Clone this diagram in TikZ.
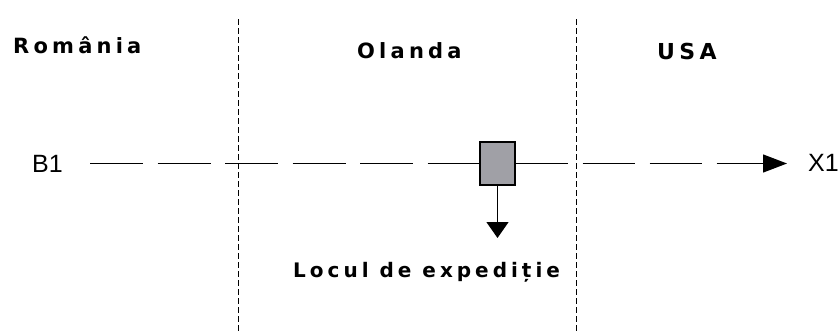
\documentclass[tikz,border=0pt]{standalone}
\usepackage{fontspec}
\setmainfont{Liberation Sans}
\newfontfamily\spacedfont[LetterSpace=20]{DejaVu Sans Bold}
\usetikzlibrary{arrows.meta, positioning}
\definecolor{boxgray}{RGB}{160,160,166}

\begin{document}
\begin{tikzpicture}[
                x=1pt, y=-1pt,
                country/.style={inner sep=0pt, anchor=base west, font=\spacedfont\fontsize{21}{25}\selectfont},
                endpoint/.style={inner sep=0pt, anchor=base west, font=\fontsize{25}{30}\selectfont},
                border/.style={dash pattern=on 6pt off 3pt, line width=0.9pt},
                flow/.style={line width=1.3pt},
                post/.style={rectangle, draw, line width=1.3pt, fill=boxgray, minimum width=35pt, minimum height=43pt, inner sep=0pt}
            ]
                \useasboundingbox (0,0) rectangle (840,332);
                % country borders
                \coordinate (bordA) at (238,19);
                \coordinate (bordAend) at (238,332);
                \coordinate (bordB) at (576,19);
                \coordinate (bordBend) at (576,332);
                \draw[border] (bordA) -- (bordAend);
                \draw[border] (bordB) -- (bordBend);
                
                \node[country] (romania) at (13,53) {România};
                \node[country] (olanda) at (357,58) {Olanda};
                \node[country, font=\spacedfont\fontsize{22}{26}\selectfont] (usa) at (657,59) {USA};
                
                \node[endpoint] (b1) at (32,172) {B1};
                \node[endpoint] (x1) at (808,171) {X1};
                \node[post] (depot) at (497.5,163.5) {};
                \coordinate (start) at (90,163.5);
                \coordinate (tip) at (787,163.5);
                \coordinate (drop) at (497.5,238);
                
                \draw[flow, dash pattern=on 53pt off 14.5pt] (start) -- (depot.west);
                \draw[flow, dash pattern=on 52pt off 15pt, -{Triangle[length=24pt, width=18pt]}] (depot.east) -- (tip);
                \draw[flow, -{Triangle[length=16pt, width=22pt]}] (depot.south) -- (drop);
                
                \node[inner sep=0pt, anchor=base west, font=\spacedfont\fontsize{20}{24}\selectfont] (locul) at (293,277) {Locul de expediție};
            \end{tikzpicture}
\end{document}
